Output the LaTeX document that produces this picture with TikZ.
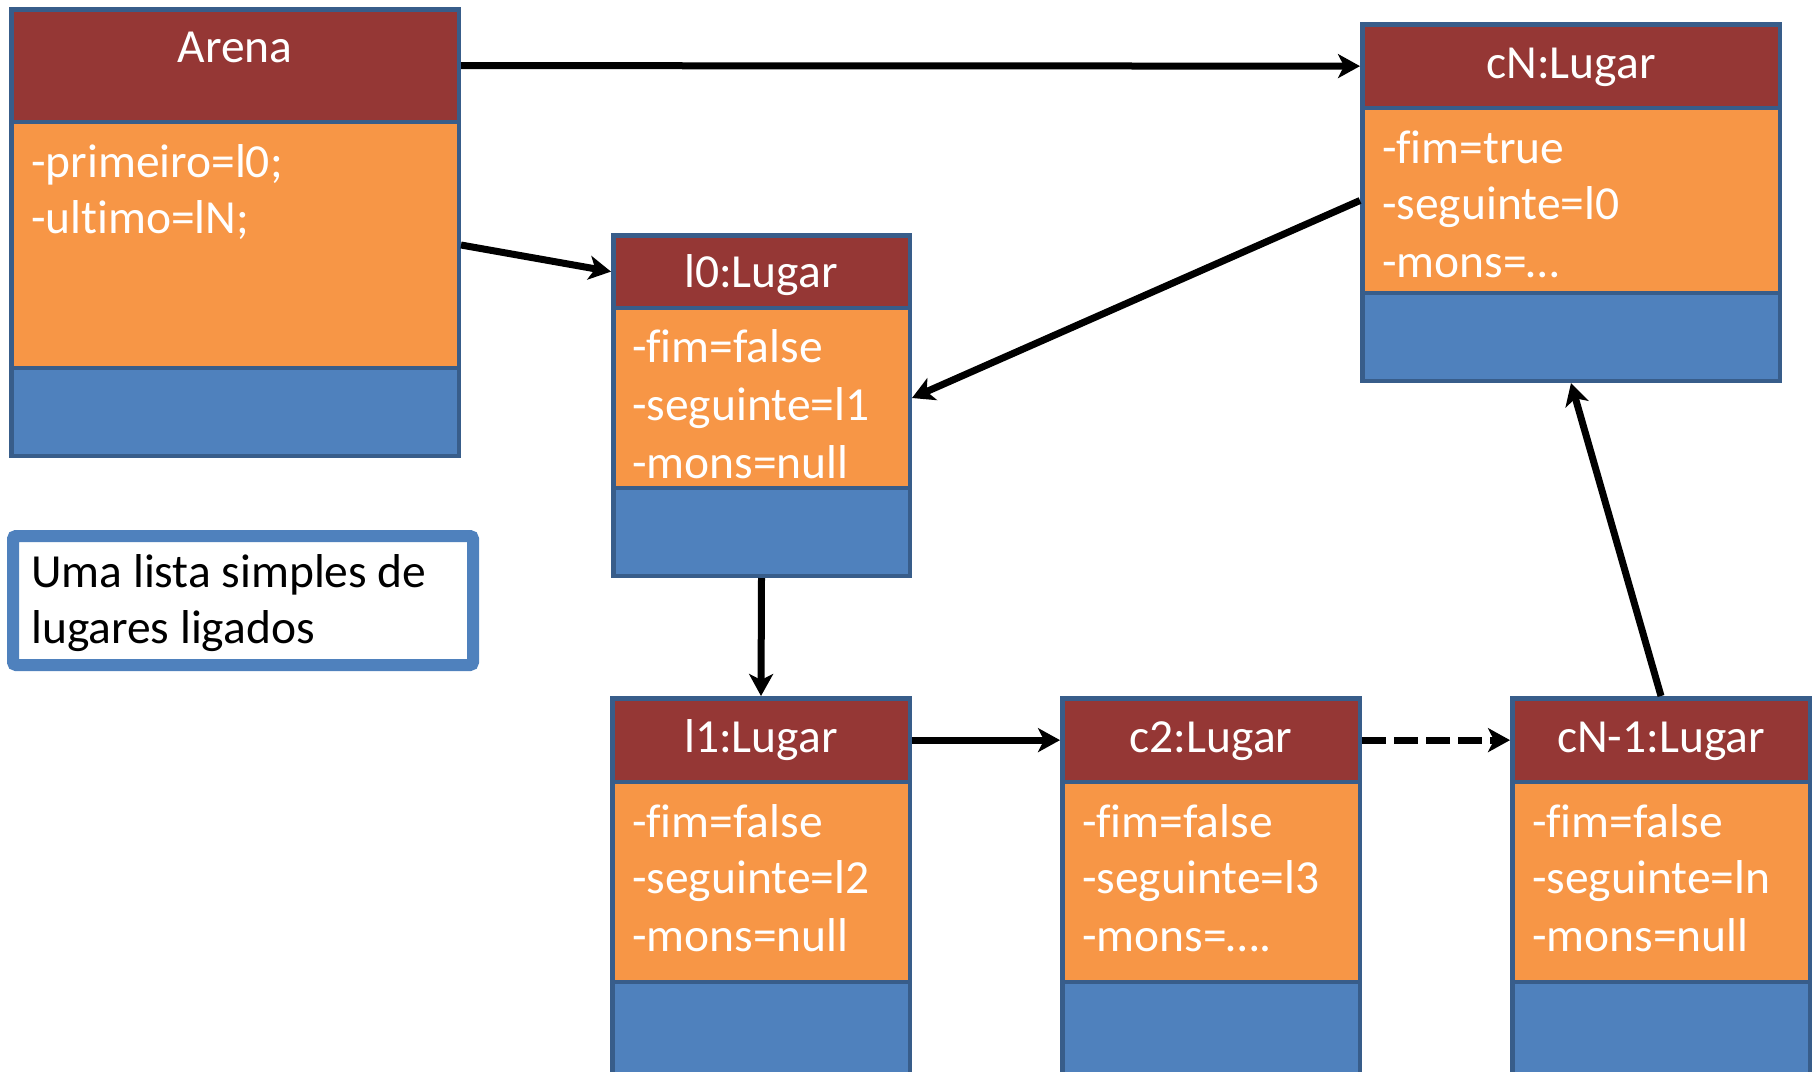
\documentclass[tikz,border=0pt]{standalone}
\usepackage{fontspec}
\setmainfont{Carlito}[Ligatures=NoCommon]
\usetikzlibrary{arrows.meta}

\definecolor{hdrred}{HTML}{953735}
\definecolor{bodyorange}{HTML}{F79646}
\definecolor{footblue}{HTML}{4F81BD}
\definecolor{edgeblue}{HTML}{385D8A}
\definecolor{noteedge}{HTML}{4F81BD}

% one compartment of an object box: name, fill, x1, y1, x2, y2 (border centre line)
\newcommand\lugarpart[6]{%
  \node[part, fill=#2, minimum width={#5-#3}, minimum height={#6-#4}]
    (#1) at ({(#3+#5)/2},{(#4+#6)/2}) {};}

% a whole object box: name, x1, x2, top, header/body line, body/footer line, bottom
\newcommand\lugarobj[7]{%
  \lugarpart{#1-f}{footblue}{#2}{#6}{#3}{#7}
  \lugarpart{#1-b}{bodyorange}{#2}{#5}{#3}{#6}
  \lugarpart{#1-h}{hdrred}{#2}{#4}{#3}{#5}}

\tikzset{
  part/.style={rectangle, draw=edgeblue, line width=4.5pt, inner sep=0pt},
  txt/.style={inner sep=0pt, font=\fontsize{47.5}{57}\selectfont},
  ttl/.style={txt, anchor=base, text=white},
  attr/.style={txt, anchor=base west, text=white},
  link/.style={line width=7pt, -{Stealth[length=22pt,width=24pt,inset=6pt]}},
}

\begin{document}
\begin{tikzpicture}[x=1pt, y=-1pt]
\clip (0,0) rectangle (1817,1071);

% object boxes
\lugarobj{arena}{11.25}{458.75}{9.25}{122}{368}{455.75}
\lugarobj{l0}{613.25}{909.75}{235.25}{308}{488}{575.75}
\lugarobj{cN}{1362.25}{1779.75}{24.25}{108}{293}{380.75}
\lugarobj{l1}{612.25}{909.75}{698.25}{782}{982}{1095}
\lugarobj{c2}{1062.25}{1359.75}{698.25}{782}{982}{1095}
\lugarobj{cN1}{1512.25}{1809.75}{698.25}{782}{982}{1095}

% Arena
\node[ttl] (arena-t) at (235,62) {Arena};
\node[attr] (arena-a1) at (31,177) {-primeiro=l0;};
\node[attr] (arena-a2) at (31,233) {-ultimo=lN;};

% l0
\node[ttl] (l0-t) at (761,287) {l0:Lugar};
\node[attr] (l0-a1) at (632,362) {-fim=false};
\node[attr] (l0-a2) at (632,420) {-seguinte=l1};
\node[attr] (l0-a3) at (632,478) {-mons=null};

% cN
\node[ttl] (cN-t) at (1571,78) {cN:Lugar};
\node[attr] (cN-a1) at (1382,163) {-fim=true};
\node[attr] (cN-a2) at (1382,219) {-seguinte=l0};
\node[attr] (cN-a3) at (1382,277) {-mons=…};

% l1
\node[ttl] (l1-t) at (761,752) {l1:Lugar};
\node[attr] (l1-a1) at (632,837) {-fim=false};
\node[attr] (l1-a2) at (632,893) {-seguinte=l2};
\node[attr] (l1-a3) at (632,951) {-mons=null};

% c2
\node[ttl] (c2-t) at (1211,752) {c2:Lugar};
\node[attr] (c2-a1) at (1082,837) {-fim=false};
\node[attr] (c2-a2) at (1082,893) {-seguinte=l3};
\node[attr] (c2-a3) at (1082,951) {-mons=….};

% cN-1
\node[ttl] (cN1-t) at (1661,752) {cN-1:Lugar};
\node[attr] (cN1-a1) at (1532,837) {-fim=false};
\node[attr] (cN1-a2) at (1532,893) {-seguinte=ln};
\node[attr] (cN1-a3) at (1532,951) {-mons=null};

% note
\node[draw=noteedge, line width=12pt, fill=white, rounded corners=3pt,
      minimum width=460, minimum height=129, inner sep=0pt] (note) at (243,600.5) {};
\node[txt, anchor=base west] (note-l1) at (31,587) {Uma lista simples de};
\node[txt, anchor=base west] (note-l2) at (31,643) {lugares ligados};

% links
\draw[link] (arena-h.east) -- (cN-h.west);
\draw[link] (arena-b.east) -- (l0-h.west);
\draw[link] (cN-b.west) -- (l0-b.east);
\draw[link] (l0-f.south) -- (l1-h.north);
\draw[link] (l1-h.east) -- (c2-h.west);
\draw[link, dash pattern=on 24pt off 8pt] (c2-h.east) -- (cN1-h.west);
\draw[link] (cN1-h.north) -- (cN-f.south);
\end{tikzpicture}
\end{document}
